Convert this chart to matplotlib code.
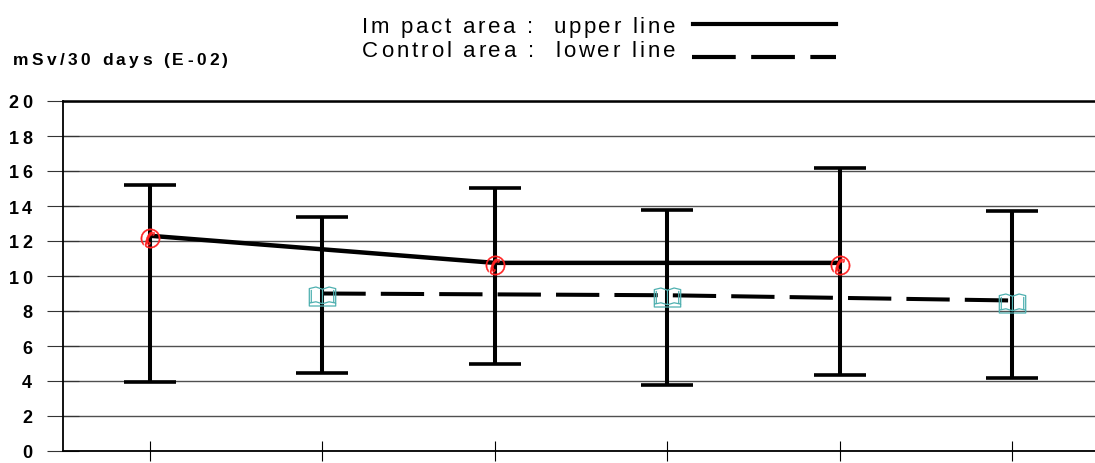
import numpy as np
import matplotlib
matplotlib.use("Agg")
import matplotlib.pyplot as plt
from matplotlib.font_manager import FontProperties, findfont, get_font
from matplotlib.transforms import offset_copy
from matplotlib.lines import Line2D
from matplotlib.path import Path

# data (units: mSv/30 days, E-02)
impact_x = [1, 3, 5]
impact_mean = [12.3, 10.75, 10.75]
impact_low = [3.95, 4.95, 4.35]
impact_high = [15.2, 15.05, 16.15]

control_x = [2, 4, 6]
control_mean = [9.0, 8.9, 8.6]
control_low = [4.45, 3.75, 4.2]
control_high = [13.35, 13.75, 13.7]

y_ticks = list(range(0, 21, 2))
y_label = "mSv/30 days (E-02)"
legend_rows = ["Im pact area :  upper line", "Control area :  lower line"]

W, H = 1095, 464
fig = plt.figure(figsize=(W / 100, H / 100), dpi=100)
ax = fig.add_axes([63 / W, 12 / H, (W - 63) / W, 350 / H])


def spaced_text(x, y, s, size, weight="normal", gap=0.0, width=None,
                ha="left", transform=None, color="black"):
    # draw text char by char so the wide letter spacing can be imitated
    prop = FontProperties(family="Liberation Sans", size=size, weight=weight)
    font = get_font(findfont(prop))
    font.set_size(size, fig.dpi)
    adv = [font.load_char(ord(c)).linearHoriAdvance / 65536 for c in s]
    if width is not None and len(s) > 1:
        gap = (width - sum(adv)) / (len(s) - 1)
    total = sum(adv) + gap * (len(s) - 1)
    pos = {"left": 0, "center": -total / 2, "right": -total}[ha]
    if transform is None:
        transform = fig.transFigure
    for c, a in zip(s, adv):
        if c != " ":
            fig.text(x, y, c, fontproperties=prop, color=color,
                     transform=offset_copy(transform, fig, x=pos, y=0, units="dots"),
                     ha="left", va="baseline")
        pos += a + gap


# error bars
for xs, mean, low, high in [(impact_x, impact_mean, impact_low, impact_high),
                            (control_x, control_mean, control_low, control_high)]:
    mean = np.array(mean)
    yerr = [mean - np.array(low), np.array(high) - mean]
    ax.errorbar(xs, mean, yerr=yerr, fmt="none", ecolor="black",
                elinewidth=2.9, capsize=18.7, capthick=2.6, zorder=3)

ax.plot(impact_x, impact_mean, color="black", lw=3.2, zorder=4,
        solid_capstyle="butt")
ax.plot(control_x, control_mean, color="black", lw=2.9, zorder=4,
        dashes=(10.75, 3.75))

# markers
ax.plot(impact_x, np.array(impact_mean) - 0.1, ls="none", marker=r"$✆$",
        markersize=14, color="#ff2020", markeredgewidth=0.3, zorder=5)

book = Path(
    [(-1, -0.5), (-1, 0.6), (-0.5, 0.72), (0, 0.55), (0.5, 0.72), (1, 0.6),
     (1, -0.5), (0.5, -0.4), (0, -0.55), (-0.5, -0.4), (-1, -0.5),
     (0, 0.55), (0, -0.55),
     (-1, -0.5), (-1, -0.72), (1, -0.72), (1, -0.5),
     (-0.85, 0.5), (-0.85, -0.45), (0.85, 0.5), (0.85, -0.45)],
    [Path.MOVETO, Path.LINETO, Path.LINETO, Path.LINETO, Path.LINETO, Path.LINETO,
     Path.LINETO, Path.LINETO, Path.LINETO, Path.LINETO, Path.LINETO,
     Path.MOVETO, Path.LINETO,
     Path.MOVETO, Path.LINETO, Path.LINETO, Path.LINETO,
     Path.MOVETO, Path.LINETO, Path.MOVETO, Path.LINETO])
ax.plot(control_x, np.array(control_mean) - 0.12, ls="none", marker=book,
        markersize=19, markerfacecolor="none", markeredgecolor="#4fb0b0",
        markeredgewidth=0.9, zorder=5)

# axes styling
ax.set_xlim(0.4954, 6.481)
ax.set_ylim(0, 20)
ax.set_yticks(y_ticks)
ax.set_yticklabels([])
ax.set_xticks(impact_x + control_x)
ax.set_xticklabels([])
ax.tick_params(axis="y", direction="inout", length=23, width=0.8, color="#333333")
ax.tick_params(axis="x", direction="inout", length=15, width=0.8, color="black")
ax.grid(axis="y", color="#505050", lw=1.0)
ax.set_axisbelow(True)
for side in ["left", "bottom"]:
    ax.spines[side].set_linewidth(1.3)
ax.spines["top"].set_linewidth(1.8)
ax.spines["right"].set_visible(False)

# y tick labels
for v in y_ticks:
    spaced_text(0, v, str(v), size=13, weight="bold", gap=3.5, ha="right",
                transform=offset_copy(ax.get_yaxis_transform(), fig, x=-31, y=-6.5,
                                      units="dots"))

# axis title
spaced_text(13 / W, 1 - 65 / H, y_label, size=12.5, weight="bold", width=215)

# legend text + line samples
spaced_text(362 / W, 1 - 33 / H, legend_rows[0], size=16, width=313)
spaced_text(362 / W, 1 - 57 / H, legend_rows[1], size=16, width=313)
fig.add_artist(Line2D([693 / W, 836 / W], [1 - 24.5 / H] * 2, color="black", lw=3.0))
fig.add_artist(Line2D([692 / W, 836 / W], [1 - 57.5 / H] * 2, color="black", lw=3.0,
                      dashes=(10.5, 3.7)))

fig.savefig("out.png", dpi=100)
